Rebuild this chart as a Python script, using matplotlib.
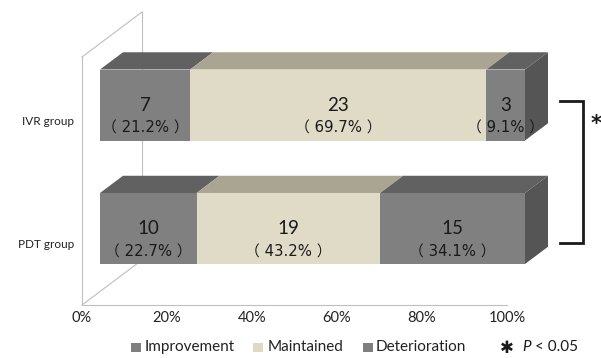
import matplotlib.pyplot as plt
from matplotlib.patches import Polygon, Rectangle

plt.rcParams['font.family'] = ['Lato', 'DejaVu Sans']

groups = ['IVR group', 'PDT group']
categories = ['Improvement', 'Maintained', 'Deterioration']
ivr_counts = [7, 23, 3]
pdt_counts = [10, 19, 15]
ticks = [0, 20, 40, 60, 80, 100]

front_colors = ['#808080', '#dfdbc7', '#808080']
top_colors = ['#616161', '#a9a592', '#616161']
side_color = '#555555'
legend_colors = ['#7f7f7f', '#ddd9c3', '#7f7f7f']
pct_font = ['DejaVu Sans', 'Noto Sans CJK JP']

# layout: x in percent, y in pixels (inverted)
W, H = 601, 358
PX_PER_PCT = 4.25
X0_PX = 82
DEPTH_DX = 60 / PX_PER_PCT
DEPTH_DY = -45
WALL_TOP, FLOOR = 57, 305
ROW_CENTER = {'IVR group': 118.5, 'PDT group': 242}
HALF_H = 35.5
D_FRONT, D_BACK = 0.3, 0.683


def proj(x, y, d):
    return (x + d * DEPTH_DX, y + d * DEPTH_DY)


def px(x_pixel):
    return (x_pixel - X0_PX) / PX_PER_PCT


fig = plt.figure(figsize=(W / 100, H / 100), dpi=100)
ax = fig.add_axes([0, 0, 1, 1])
ax.set_xlim(px(0), px(W))
ax.set_ylim(H, 0)
ax.axis('off')

# walls and floor
wall = dict(color='#bfbfbf', lw=0.8, zorder=0)
for a, b in [((0, WALL_TOP, 0), (0, FLOOR, 0)),
             ((0, WALL_TOP, 0), (0, WALL_TOP, 1)),
             ((0, WALL_TOP, 1), (0, FLOOR, 1)),
             ((0, FLOOR, 0), (0, FLOOR, 1)),
             ((0, FLOOR, 0), (100, FLOOR, 0))]:
    p, q = proj(*a), proj(*b)
    ax.plot([p[0], q[0]], [p[1], q[1]], **wall)

for t in ticks:
    ax.text(t, 318, f'{t}%', ha='center', va='center', fontsize=10.5, color='#222222')

for g, counts in zip(groups, [ivr_counts, pdt_counts]):
    yc = ROW_CENTER[g]
    total = sum(counts)
    y_top, y_bot = yc - HALF_H, yc + HALF_H
    left = 0
    for i, c in enumerate(counts):
        w = c / total * 100
        x0, x1 = left, left + w
        front = [proj(x0, y_top, D_FRONT), proj(x1, y_top, D_FRONT),
                 proj(x1, y_bot, D_FRONT), proj(x0, y_bot, D_FRONT)]
        top = [proj(x0, y_top, D_FRONT), proj(x1, y_top, D_FRONT),
               proj(x1, y_top, D_BACK), proj(x0, y_top, D_BACK)]
        ax.add_patch(Polygon(top, closed=True, fc=top_colors[i], ec='none', zorder=2))
        ax.add_patch(Polygon(front, closed=True, fc=front_colors[i], ec='none', zorder=3))
        if i == len(counts) - 1:
            side = [proj(x1, y_top, D_FRONT), proj(x1, y_top, D_BACK),
                    proj(x1, y_bot, D_BACK), proj(x1, y_bot, D_FRONT)]
            ax.add_patch(Polygon(side, closed=True, fc=side_color, ec='none', zorder=2))
        cx = proj((x0 + x1) / 2, yc, D_FRONT)[0]
        ax.text(cx, yc - 13, str(c), ha='center', va='center', fontsize=13.5,
                color='#1a1a1a', zorder=5)
        ax.text(cx, yc + 10, f'（ {c / total * 100:.1f}% ）', ha='center', va='center',
                fontsize=10.7, color='#1a1a1a', family=pct_font, zorder=5)
        left = x1
    ax.text(px(74), yc + 3, g, ha='right', va='center', fontsize=8.5, color='#222222')

# significance bracket
bx0, bx1 = px(560), px(583)
ax.plot([bx0, bx1, bx1, bx0], [101, 101, 243, 243], color='#1a1a1a', lw=2,
        solid_joinstyle='miter', zorder=4)
ax.text(px(591), 124, '*', ha='left', va='center', fontsize=15,
        fontweight='bold', color='#1a1a1a', family='DejaVu Sans')

# legend
leg_items = [(131, 145), (253, 268), (363, 376)]
for (mx, tx), name, col in zip(leg_items, categories, legend_colors):
    ax.add_patch(Rectangle((px(mx), 352), 9.5 / PX_PER_PCT, -9.5, fc=col, ec='none'))
    ax.text(px(tx), 347, name, ha='left', va='center', fontsize=11, color='#222222')
ax.text(px(500), 348, '✱', ha='left', va='center', fontsize=12,
        color='#1a1a1a', family='DejaVu Sans')
ax.text(px(522), 347, 'P', ha='left', va='center', fontsize=11, style='italic',
        color='#1a1a1a')
ax.text(px(535), 347, '< 0.05', ha='left', va='center', fontsize=11, color='#1a1a1a')

fig.savefig('out.png', dpi=100)
